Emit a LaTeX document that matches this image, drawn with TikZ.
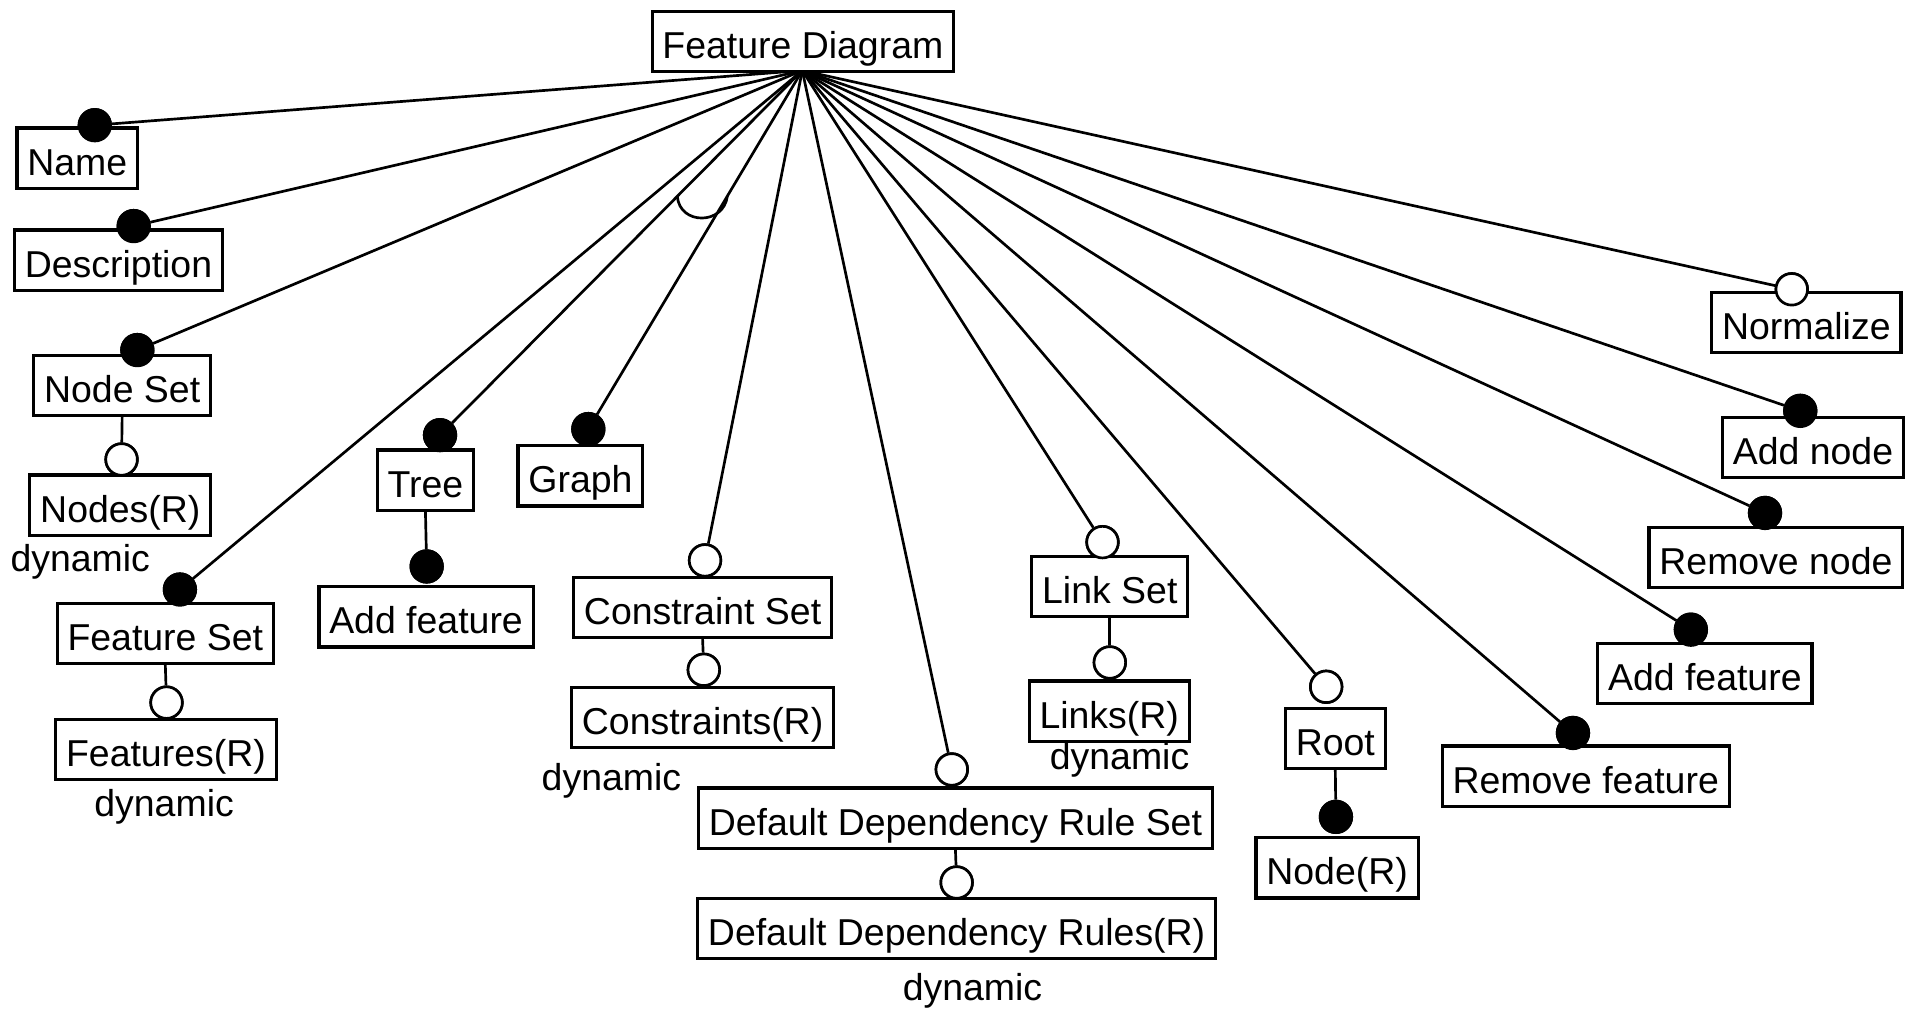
\documentclass[tikz,border=0pt]{standalone}
\usepackage{fontspec}
\setmainfont{Liberation Sans}
\usetikzlibrary{calc}

\begin{document}
\begin{tikzpicture}[x=1pt,y=-1pt,
  box/.style={draw,line width=2.6pt,fill=white,inner xsep=8.5pt,inner ysep=2pt,
    text height=36.75pt,text depth=8.75pt,font=\fontsize{30.8}{36}\selectfont},
  mand/.style={circle,draw,line width=2.2pt,fill=black,minimum size=26pt,inner sep=0pt},
  opt/.style={mand,fill=white},
  lbl/.style={inner sep=0pt,font=\fontsize{30.8}{36}\selectfont},
  edge/.style={line width=2.2pt}]
\useasboundingbox (0,0) rectangle (1568,832);

% circles
\node[mand] (cName)     at (78,103)   {};
\node[mand] (cDesc)     at (110,186)  {};
\node[mand] (cNodeSet)  at (113,288)  {};
\node[opt]  (cNodes)    at (100,378)  {};
\node[mand] (cFeatSet)  at (148,485)  {};
\node[opt]  (cFeats)    at (137,578)  {};
\node[mand] (cTree)     at (362,358)  {};
\node[mand] (cAddFeatL) at (351,466)  {};
\node[mand] (cGraph)    at (484,353)  {};
\node[opt]  (cConsSet)  at (580,461)  {};
\node[opt]  (cCons)     at (579,551)  {};
\node[opt]  (cDDRS)     at (783,633)  {};
\node[opt]  (cDDR)      at (787,726)  {};
\node[opt]  (cLinkSet)  at (907,446)  {};
\node[opt]  (cLinks)    at (913,545)  {};
\node[opt]  (cRoot)     at (1091,565) {};
\node[mand] (cNodeR)    at (1099,672) {};
\node[mand] (cRemFeat)  at (1294,603) {};
\node[mand] (cAddFeatR) at (1391,518) {};
\node[mand] (cRemNode)  at (1452,422) {};
\node[mand] (cAddNode)  at (1481,338) {};
\node[opt]  (cNorm)     at (1474,238) {};

\coordinate (hub) at (660,58);

% fan
\foreach \c in {cName,cDesc,cNodeSet,cFeatSet,cTree,cGraph,cConsSet,cDDRS,
  cLinkSet,cRoot,cRemFeat,cAddFeatR,cRemNode,cAddNode,cNorm}
  \draw[edge] (hub) -- (\c);

% alternative arc
\coordinate (a1) at ($(hub)!0.345!(cTree)$);
\coordinate (a2) at ($(hub)!0.35!(cGraph)$);
\draw[edge] (a1) .. controls ($(a1)+(2,24)$) and ($(a2)+(-3,24)$) .. (a2);

% boxes
\node[box] (fd)      at (660.5,34)  {Feature Diagram};
\node[box] (name)    at (63.5,130)  {Name};
\node[box] (desc)    at (97.5,214)  {Description};
\node[box] (nodeset) at (100.5,317) {Node Set};
\node[box] (nodes)   at (99,415.5)  {Nodes(R)};
\node[box] (featset) at (136,521)   {Feature Set};
\node[box] (feats)   at (136.5,616.5) {Features(R)};
\node[box] (tree)    at (350,395)   {Tree};
\node[box] (addfl)   at (350.5,507.5) {Add feature};
\node[box] (graph)   at (477.5,391.5) {Graph};
\node[box] (consset) at (578,499.5) {Constraint Set};
\node[box] (cons)    at (578,590)   {Constraints(R)};
\node[box] (ddrs)    at (786,673)   {Default Dependency Rule Set};
\node[box] (ddr)     at (787,764)   {Default Dependency Rules(R)};
\node[box] (linkset) at (913,482.5) {Link Set};
\node[box] (links)   at (912.5,585) {Links(R)};
\node[box] (root)    at (1098.5,607.5) {Root};
\node[box] (noder)   at (1100,714)  {Node(R)};
\node[box] (remf)    at (1304.5,638.5) {Remove feature};
\node[box] (addfr)   at (1402.5,554) {Add feature};
\node[box] (remn)    at (1461,458.5) {Remove node};
\node[box] (addn)    at (1491.5,368) {Add node};
\node[box] (norm)    at (1486,265.5) {Normalize};

% sub features
\draw[edge] (nodeset.south) -- (cNodes);
\draw[edge] (featset.south) -- (cFeats);
\draw[edge] (tree.south) -- (cAddFeatL);
\draw[edge] (consset.south) -- (cCons);
\draw[edge] (ddrs.south) -- (cDDR);
\draw[edge] (linkset.south) -- (cLinks);
\draw[edge] (root.south) -- (cNodeR);

% circles on top
\foreach \c/\s in {cName/mand,cDesc/mand,cNodeSet/mand,cNodes/opt,cFeatSet/mand,
  cFeats/opt,cTree/mand,cAddFeatL/mand,cGraph/mand,cConsSet/opt,cCons/opt,
  cDDRS/opt,cDDR/opt,cLinkSet/opt,cLinks/opt,cRoot/opt,cNodeR/mand,
  cRemFeat/mand,cAddFeatR/mand,cRemNode/mand,cAddNode/mand,cNorm/opt}
  \node[\s] at (\c) {};

\node[lbl] (dyn1) at (66,462)  {dynamic};
\node[lbl] (dyn2) at (135,664) {dynamic};
\node[lbl] (dyn3) at (503,642) {dynamic};
\node[lbl] (dyn4) at (800,815) {dynamic};
\node[lbl] (dyn5) at (921,625) {dynamic};
\end{tikzpicture}
\end{document}
